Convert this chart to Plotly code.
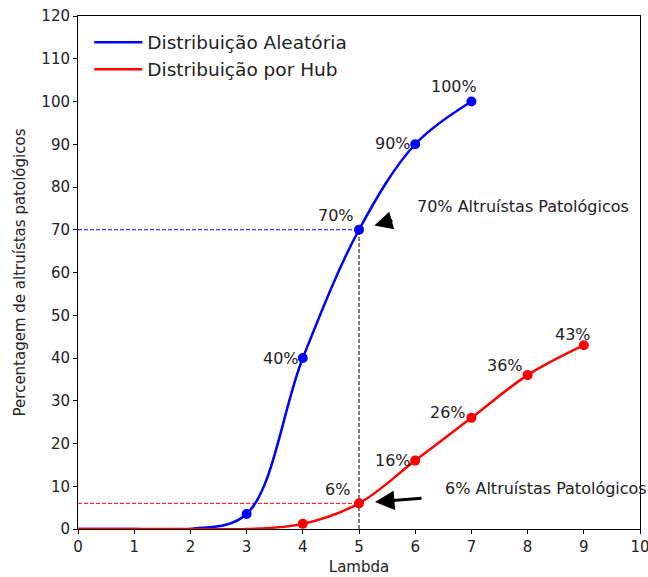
import plotly.graph_objects as go

# Lambda values and percentage of pathological altruists per network type
lambda_aleatoria = [0, 1, 2, 3, 4, 5, 6, 7]
pct_aleatoria = [0, 0, 0, 3.5, 40, 70, 90, 100]

lambda_hub = [0, 1, 2, 3, 4, 5, 6, 7, 8, 9]
pct_hub = [0, 0, 0, 0, 1.2, 6, 16, 26, 36, 43]

# markers are drawn from this index on
first_marker_aleatoria = 3
first_marker_hub = 4

# labelled points (x value) for each series
labelled_aleatoria = [4, 5, 6, 7]
labelled_hub = [5, 6, 7, 8, 9]

x_ticks = list(range(0, 11))
y_ticks = list(range(0, 121, 10))

# reference level marked with guides and arrows
lambda_ref = 5

FONT = "DejaVu Sans"
TXT = "#222222"
BLUE = "#0000ff"
RED = "#ff0000"

fig = go.Figure()

# guide lines at lambda = 5
y_ref_a = pct_aleatoria[lambda_aleatoria.index(lambda_ref)]
y_ref_h = pct_hub[lambda_hub.index(lambda_ref)]
fig.add_trace(go.Scatter(x=[0, lambda_ref], y=[y_ref_a, y_ref_a], mode="lines",
                         line=dict(color=BLUE, width=1, dash="4px,2px"),
                         showlegend=False, hoverinfo="skip"))
fig.add_trace(go.Scatter(x=[0, lambda_ref], y=[y_ref_h, y_ref_h], mode="lines",
                         line=dict(color=RED, width=1, dash="4px,2px"),
                         showlegend=False, hoverinfo="skip"))
fig.add_trace(go.Scatter(x=[lambda_ref, lambda_ref], y=[0, y_ref_a], mode="lines",
                         line=dict(color="black", width=1, dash="4px,2px"),
                         showlegend=False, hoverinfo="skip"))

# smooth curves
fig.add_trace(go.Scatter(x=lambda_aleatoria, y=pct_aleatoria, mode="lines",
                         line=dict(color=BLUE, width=2.5, shape="spline"),
                         name="Distribuição Aleatória"))
fig.add_trace(go.Scatter(x=lambda_hub, y=pct_hub, mode="lines",
                         line=dict(color=RED, width=2.5, shape="spline"),
                         name="Distribuição por Hub"))

# point markers
fig.add_trace(go.Scatter(x=lambda_aleatoria[first_marker_aleatoria:],
                         y=pct_aleatoria[first_marker_aleatoria:], mode="markers",
                         marker=dict(color=BLUE, size=10), showlegend=False))
fig.add_trace(go.Scatter(x=lambda_hub[first_marker_hub:],
                         y=pct_hub[first_marker_hub:], mode="markers",
                         marker=dict(color=RED, size=10), showlegend=False))

# percentage labels, placed beside each point (pixel shifts)
shift_aleatoria = {4: (-22, 0), 5: (-23, 14), 6: (-22, 1), 7: (-17, 15)}
shift_hub = {5: (-22, 14), 6: (-22, 0), 7: (-23, 5), 8: (-23, 10), 9: (-11, 11)}

for xs, ys, labelled, shifts in [
    (lambda_aleatoria, pct_aleatoria, labelled_aleatoria, shift_aleatoria),
    (lambda_hub, pct_hub, labelled_hub, shift_hub),
]:
    for xv in labelled:
        yv = ys[xs.index(xv)]
        dx, dy = shifts[xv]
        fig.add_annotation(x=xv, y=yv, text=f"{yv:g}%", showarrow=False,
                           xanchor="center", yanchor="middle", xshift=dx, yshift=dy,
                           font=dict(family=FONT, size=16, color=TXT))

# callout texts with arrows
fig.add_annotation(x=6.0, y=75.5, text="70% Altruístas Patológicos", showarrow=False,
                   xanchor="left", yanchor="middle",
                   font=dict(family=FONT, size=16, color=TXT))
fig.add_annotation(x=6.5, y=9.4, text="6% Altruístas Patológicos", showarrow=False,
                   xanchor="left", yanchor="middle",
                   font=dict(family=FONT, size=16, color=TXT))

fig.add_annotation(x=lambda_ref, y=y_ref_a, ax=5.62, ay=72.3, axref="x", ayref="y",
                   text="", showarrow=True, arrowhead=2, arrowsize=1.2, arrowwidth=3,
                   arrowcolor="black", standoff=16)
fig.add_annotation(x=lambda_ref, y=y_ref_h, ax=6.14, ay=7.25, axref="x", ayref="y",
                   text="", showarrow=True, arrowhead=2, arrowsize=1.3, arrowwidth=3,
                   arrowcolor="black", standoff=16)

axis_common = dict(showline=True, linecolor="black", linewidth=1, mirror=True,
                   ticks="outside", ticklen=4, tickcolor="black", tickwidth=1,
                   showgrid=False, zeroline=False, automargin=False,
                   ticklabeloverflow="allow",
                   tickfont=dict(family=FONT, size=15, color=TXT))

fig.update_xaxes(range=[0, 10], tickvals=x_ticks, ticktext=[str(v) for v in x_ticks],
                 title=dict(text="Lambda", font=dict(family=FONT, size=15, color=TXT),
                            standoff=6),
                 **axis_common)
fig.update_yaxes(range=[0, 120], tickvals=y_ticks, ticktext=[str(v) for v in y_ticks],
                 title=dict(text="Percentagem de altruístas patológicos",
                            font=dict(family=FONT, size=15, color=TXT), standoff=12),
                 **axis_common)

fig.update_layout(
    width=648, height=577,
    margin=dict(l=78, r=8, t=16, b=48),
    paper_bgcolor="white", plot_bgcolor="white",
    showlegend=True,
    legend=dict(x=0.02, y=0.985, xanchor="left", yanchor="top", itemwidth=48,
                bgcolor="rgba(0,0,0,0)", font=dict(family=FONT, size=18.5, color=TXT)),
)

fig.write_html("out.html")
